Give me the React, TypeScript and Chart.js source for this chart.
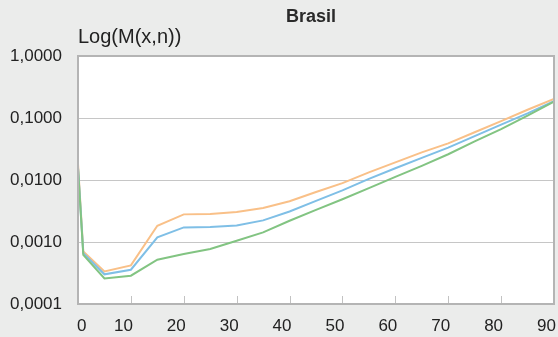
import React, { useEffect, useRef } from 'react';
import { Chart, registerables } from 'chart.js';

Chart.register(...registerables);

// ---- data ----
const ages = [0, 1, 5, 10, 15, 20, 25, 30, 35, 40, 45, 50, 55, 60, 65, 70, 75, 80, 85, 90];
const orangeSeries = [0.0183, 0.0007, 0.000336, 0.00042, 0.00183, 0.00279, 0.00283, 0.00305, 0.00353, 0.00455, 0.0064, 0.0089, 0.0133, 0.0192, 0.0279, 0.039, 0.059, 0.089, 0.136, 0.204];
const blueSeries = [0.016, 0.00066, 0.000301, 0.000357, 0.00119, 0.00172, 0.00175, 0.00185, 0.00223, 0.0031, 0.0046, 0.0068, 0.0104, 0.0155, 0.0228, 0.0332, 0.051, 0.078, 0.119, 0.187];
const greenSeries = [0.0156, 0.00062, 0.000259, 0.000286, 0.000519, 0.00064, 0.00077, 0.00105, 0.00143, 0.0022, 0.0033, 0.0049, 0.0074, 0.0112, 0.0169, 0.026, 0.042, 0.066, 0.109, 0.183];
const yTickValues = [0.0001, 0.001, 0.01, 0.1, 1];
const xTickValues = [0, 10, 20, 30, 40, 50, 60, 70, 80, 90];
const chartTitle = 'Brasil';
const yAxisTitle = 'Log(M(x,n))';

const FONT = '"Liberation Sans", Arial, Helvetica, sans-serif';
const TEXT = '#222222';

const toPoints = (vals: number[]) => ages.map((a, i) => ({ x: a, y: vals[i] }));
const fmtY = (v: number) => v.toFixed(4).replace('.', ',');

const framePlugin = {
  id: 'framePlugin',
  beforeDraw(chart: any) {
    const { ctx, chartArea: a, width, height } = chart;
    ctx.save();
    ctx.fillStyle = '#ebeceb';
    ctx.fillRect(0, 0, width, height);
    ctx.fillStyle = '#ffffff';
    ctx.fillRect(a.left, a.top, a.right - a.left, a.bottom - a.top);
    ctx.restore();
  },
  afterDraw(chart: any) {
    const { ctx, chartArea: a } = chart;
    const xs = chart.scales.x;
    ctx.save();
    // tick marks inside the plot
    ctx.strokeStyle = '#c2c2c2';
    ctx.lineWidth = 1;
    xTickValues.forEach((v) => {
      const px = Math.round(xs.getPixelForValue(v)) + 0.5;
      ctx.beginPath();
      ctx.moveTo(px, a.bottom);
      ctx.lineTo(px, a.bottom - 8);
      ctx.stroke();
    });
    // frame
    ctx.strokeStyle = '#b4b4b4';
    ctx.lineWidth = 2;
    ctx.strokeRect(a.left, a.top, a.right - a.left, a.bottom - a.top);
    // first x label, kept inside the plot's left edge
    ctx.fillStyle = TEXT;
    ctx.font = '17px ' + FONT;
    ctx.textAlign = 'left';
    ctx.textBaseline = 'alphabetic';
    const first = String(xTickValues[0]);
    ctx.fillText(first, a.left - 1, 331);
    // titles
    ctx.font = 'bold 18px ' + FONT;
    ctx.textAlign = 'center';
    ctx.fillStyle = '#2a2a2a';
    ctx.fillText(chartTitle, (a.left + a.right) / 2 - 5, 22);
    ctx.font = '20px ' + FONT;
    ctx.textAlign = 'left';
    ctx.fillStyle = TEXT;
    ctx.fillText(yAxisTitle, a.left, 43);
    ctx.restore();
  },
};

export default function App() {
  const ref = useRef<HTMLCanvasElement | null>(null);
  useEffect(() => {
    if (!ref.current) return;
    const line = (label: string, vals: number[], color: string, order: number) => ({
      label,
      data: toPoints(vals),
      borderColor: color,
      backgroundColor: color,
      borderWidth: 2,
      pointRadius: 0,
      tension: 0,
      fill: false,
      order,
    });
    const chart = new Chart(ref.current, {
      type: 'line',
      data: {
        datasets: [
          line('green', greenSeries, '#82c482', 1),
          line('blue', blueSeries, '#7fbfe6', 2),
          line('orange', orangeSeries, '#f9c088', 3),
        ],
      },
      options: {
        animation: false,
        responsive: false,
        devicePixelRatio: 1,
        layout: { padding: { top: 56, right: 4, left: 0, bottom: 0 } },
        plugins: { legend: { display: false }, tooltip: { enabled: false }, title: { display: false } },
        scales: {
          x: {
            type: 'linear',
            min: 0,
            max: 90,
            afterBuildTicks: (s: any) => {
              s.ticks = xTickValues.map((v) => ({ value: v }));
            },
            afterFit: (s: any) => {
              s.height = 33;
              s.paddingLeft = 0;
              s.paddingRight = 0;
              s.paddingTop = 0;
              s.paddingBottom = 0;
            },
            grid: { display: false, drawTicks: false },
            border: { display: false },
            ticks: {
              autoSkip: false,
              maxRotation: 0,
              padding: 12,
              labelOffset: -7.5,
              font: { size: 17, family: FONT },
              color: (c: any) => (c.index === 0 ? 'rgba(0,0,0,0)' : TEXT),
              callback: (v: any) => String(v),
            },
          },
          y: {
            type: 'logarithmic',
            min: 0.0001,
            max: 1,
            afterBuildTicks: (s: any) => {
              s.ticks = yTickValues.map((v) => ({ value: v }));
            },
            afterFit: (s: any) => {
              s.width = 78;
              s.paddingTop = 0;
              s.paddingBottom = 0;
              s.paddingLeft = 0;
              s.paddingRight = 0;
            },
            grid: { color: '#c6c6c6', lineWidth: 1, drawTicks: false },
            border: { display: false },
            ticks: {
              padding: 16,
              font: { size: 17, family: FONT },
              color: TEXT,
              callback: (v: any) => fmtY(Number(v)),
            },
          },
        },
      },
      plugins: [framePlugin],
    } as any);
    return () => chart.destroy();
  }, []);
  return (
    <div style={{ position: 'absolute', left: 0, top: 0, width: 558, height: 337 }}>
      <canvas ref={ref} width={558} height={337} style={{ display: 'block' }} />
    </div>
  );
}
